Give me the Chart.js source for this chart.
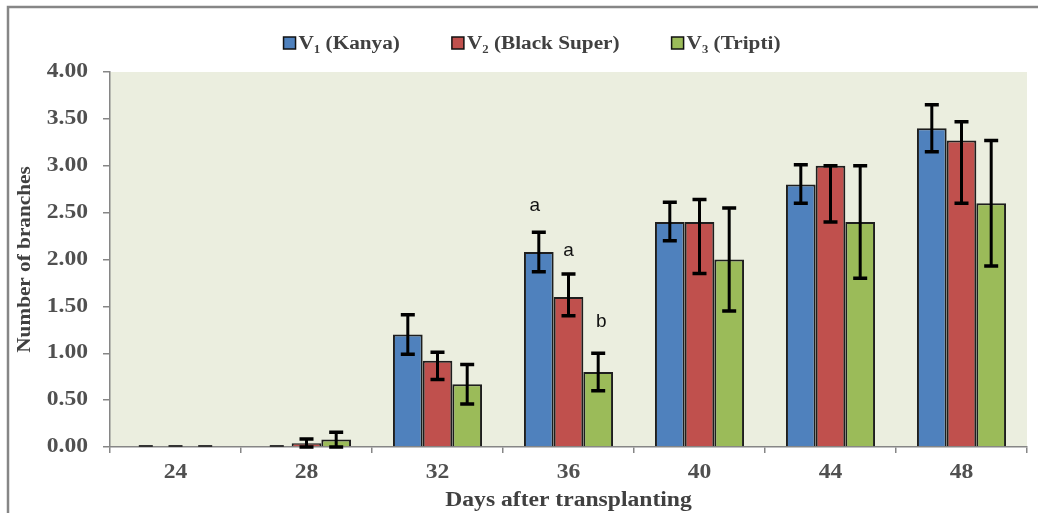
<!DOCTYPE html>
<html>
<head>
<meta charset="utf-8">
<script src="https://cdn.jsdelivr.net/npm/chart.js@4/dist/chart.umd.min.js"></script>
<style>
  html, body { margin: 0; padding: 0; background: #ffffff; }
  #wrap { width: 1038px; height: 513px; }
</style>
</head>
<body>
<div id="wrap"><canvas id="c" width="1038" height="513"></canvas></div>
<script>
// Days after transplanting (categories)
const days = ['24', '28', '32', '36', '40', '44', '48'];

// Series names
const seriesNames = ['V\u2081 (Kanya)', 'V\u2082 (Black Super)', 'V\u2083 (Tripti)'];

// Mean number of branches per variety
const kanya      = [0, 0,    1.20, 2.08, 2.40, 2.80, 3.40];
const blackSuper = [0, 0.04, 0.92, 1.60, 2.40, 3.00, 3.27];
const tripti     = [0, 0.08, 0.67, 0.80, 2.00, 2.40, 2.60];

// Error bar extents (above / below the mean)
const kanyaErrUp        = [0, 0,     0.21, 0.21,  0.21, 0.21, 0.25];
const kanyaErrDown      = [0, 0,     0.21, 0.21,  0.20, 0.20, 0.25];
const blackSuperErrUp   = [0, 0.045, 0.09, 0.245, 0.24, 0.00, 0.20];
const blackSuperErrDown = [0, 0.04,  0.20, 0.20,  0.55, 0.60, 0.67];
const triptiErrUp       = [0, 0.077, 0.21, 0.20,  0.55, 0.60, 0.67];
const triptiErrDown     = [0, 0.08,  0.21, 0.20,  0.55, 0.60, 0.67];

// Y axis tick values
const yTicks = [0, 0.5, 1.0, 1.5, 2.0, 2.5, 3.0, 3.5, 4.0];

// Significance letters for the 36-day group
const sigDay = '36';
const sigLetters = ['a', 'a', 'b'];

const colors = ['#4F81BD', '#C0504D', '#9BBB59'];
const errUp = [kanyaErrUp, blackSuperErrUp, triptiErrUp];
const errDown = [kanyaErrDown, blackSuperErrDown, triptiErrDown];

const serif = "'Liberation Serif', 'Times New Roman', serif";
const axisGray = '#868686';
const textGray = '#505050';
const STRETCH = 1.18;   // wide-set lettering for the serif labels

// Widen all text drawn on the chart canvas along its baseline
const wideText = {
  id: 'wideText',
  beforeInit(chart) {
    const ctx = chart.ctx;
    const plain = ctx.fillText.bind(ctx);
    ctx.plainFillText = plain;
    ctx.fillText = function (text, x, y, maxWidth) {
      this.save();
      this.translate(x, y);
      this.scale(STRETCH, 1);
      if (maxWidth === undefined) plain(text, 0, 0);
      else plain(text, 0, 0, maxWidth / STRETCH);
      this.restore();
    };
  }
};

// Frame + plot background
const backdrop = {
  id: 'backdrop',
  beforeDraw(chart) {
    const { ctx, chartArea: a } = chart;
    ctx.save();
    ctx.fillStyle = '#EBEEDF';
    ctx.fillRect(a.left, a.top, a.right - a.left, a.bottom - a.top);
    ctx.strokeStyle = axisGray;
    ctx.lineWidth = 2.5;
    ctx.beginPath();
    ctx.moveTo(8, chart.height);
    ctx.lineTo(8, 7);
    ctx.lineTo(chart.width, 7);
    ctx.stroke();
    ctx.restore();
  }
};

// Error bars drawn from the error arrays
const errorBars = {
  id: 'errorBars',
  afterDatasetsDraw(chart) {
    const { ctx } = chart;
    const y = chart.scales.y;
    ctx.save();
    ctx.lineCap = 'butt';
    chart.data.datasets.forEach((ds, i) => {
      const meta = chart.getDatasetMeta(i);
      meta.data.forEach((bar, j) => {
        const v = ds.data[j];
        const top = y.getPixelForValue(v + errUp[i][j]);
        const bot = y.getPixelForValue(v - errDown[i][j]);
        const x = bar.x;
        const half = 7;
        if (errUp[i][j] === 0 && errDown[i][j] === 0) {
          ctx.strokeStyle = '#333333';
          ctx.lineWidth = 2;
          ctx.beginPath();
          ctx.moveTo(x - half, top - 1);
          ctx.lineTo(x + half, top - 1);
          ctx.stroke();
          return;
        }
        ctx.strokeStyle = '#000000';
        ctx.lineWidth = 3;
        ctx.beginPath();
        ctx.moveTo(x, top);
        ctx.lineTo(x, bot);
        ctx.stroke();
        ctx.lineWidth = 3.5;
        ctx.beginPath();
        ctx.moveTo(x - half, top);
        ctx.lineTo(x + half, top);
        ctx.moveTo(x - half, bot);
        ctx.lineTo(x + half, bot);
        ctx.stroke();
      });
    });
    ctx.restore();
  }
};

// Significance letters above the error bars of one group
const letters = {
  id: 'letters',
  afterDatasetsDraw(chart) {
    const { ctx } = chart;
    const y = chart.scales.y;
    const j = days.indexOf(sigDay);
    const lift = [27, 23, 31];
    const shift = [-4, 0, 3];
    ctx.save();
    ctx.fillStyle = '#111111';
    ctx.font = "19px 'Liberation Sans', Arial, sans-serif";
    ctx.textAlign = 'center';
    ctx.textBaseline = 'middle';
    chart.data.datasets.forEach((ds, i) => {
      const bar = chart.getDatasetMeta(i).data[j];
      const top = y.getPixelForValue(ds.data[j] + errUp[i][j]);
      ctx.plainFillText(sigLetters[i], bar.x + shift[i], top - lift[i]);
    });
    ctx.restore();
  }
};

// Legend row across the top
const legendRow = {
  id: 'legendRow',
  afterDraw(chart) {
    const { ctx } = chart;
    const box = 12, gapText = 3, gapItem = 52, cy = 43, centerX = 532;
    ctx.save();
    ctx.font = 'bold 18px ' + serif;
    ctx.textBaseline = 'middle';
    ctx.textAlign = 'left';
    const items = chart.data.datasets.map(ds => ({
      label: ds.label, color: ds.backgroundColor, w: ctx.measureText(ds.label).width * STRETCH
    }));
    const total = items.reduce((s, it) => s + box + gapText + it.w, 0) + gapItem * (items.length - 1);
    let x = centerX - total / 2;
    items.forEach(it => {
      ctx.fillStyle = it.color;
      ctx.fillRect(x, cy - box / 2, box, box);
      ctx.strokeStyle = '#111111';
      ctx.lineWidth = 1.5;
      ctx.strokeRect(x, cy - box / 2, box, box);
      ctx.fillStyle = '#404040';
      ctx.fillText(it.label, x + box + gapText, cy + 1);
      x += box + gapText + it.w + gapItem;
    });
    ctx.restore();
  }
};

const datasets = [kanya, blackSuper, tripti].map((vals, i) => ({
  label: seriesNames[i],
  data: vals,
  backgroundColor: colors[i],
  borderColor: '#1e1e1e',
  borderWidth: 2,
  borderSkipped: 'bottom',
  categoryPercentage: 0.68,
  barPercentage: 1.0
}));

new Chart(document.getElementById('c'), {
  type: 'bar',
  data: { labels: days, datasets },
  options: {
    responsive: false,
    animation: false,
    layout: { padding: { left: 0, top: 72, right: 11, bottom: 0 } },
    plugins: { legend: { display: false }, tooltip: { enabled: false } },
    scales: {
      x: {
        grid: { display: true, drawOnChartArea: false, drawTicks: true, tickLength: 6,
                color: axisGray, lineWidth: 1.5, offset: true },
        border: { display: true, color: axisGray, width: 1.5 },
        ticks: { font: { family: serif, weight: 'bold', size: 20 }, color: textGray,
                 padding: 8, maxRotation: 0, autoSkip: false },
        title: { display: true, text: 'Days after transplanting',
                 font: { family: serif, weight: 'bold', size: 20 }, color: '#404040',
                 padding: { top: 0, bottom: 0 } },
        afterFit(s) { s.height = 66; }
      },
      y: {
        min: 0, max: 4,
        afterBuildTicks(s) { s.ticks = yTicks.map(v => ({ value: v })); },
        grid: { display: true, drawOnChartArea: false, drawTicks: true, tickLength: 7,
                color: axisGray, lineWidth: 1.5 },
        border: { display: true, color: axisGray, width: 1.5 },
        ticks: { font: { family: serif, weight: 'bold', size: 20 }, color: textGray,
                 padding: 15, callback: v => Number(v).toFixed(2) },
        title: { display: true, text: 'Number of branches',
                 font: { family: serif, weight: 'bold', size: 18 }, color: '#404040',
                 padding: { top: 15, bottom: 0 } },
        afterFit(s) { s.width = 110; }
      }
    }
  },
  plugins: [wideText, backdrop, errorBars, letters, legendRow]
});
</script>
</body>
</html>
